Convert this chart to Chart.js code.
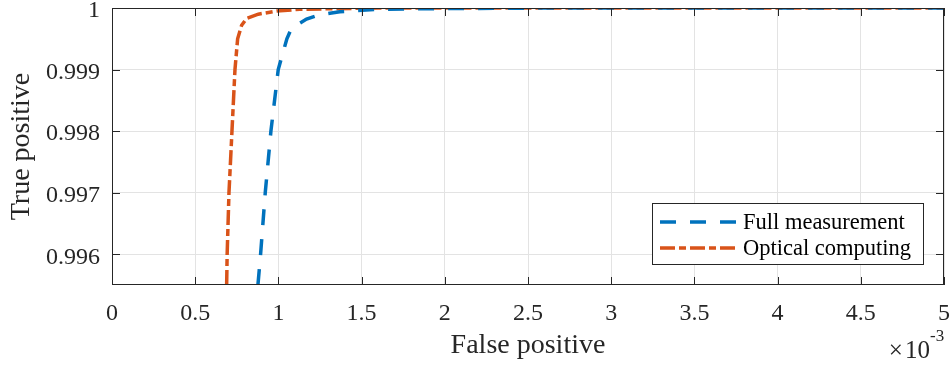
<!DOCTYPE html>
<html>
<head>
<meta charset="utf-8">
<script src="https://cdn.jsdelivr.net/npm/chart.js@4/dist/chart.umd.min.js"></script>
<style>
  html, body { margin: 0; padding: 0; background: #fff; }
</style>
</head>
<body>
<canvas id="roc" width="952" height="366" style="width:952px;height:366px;display:block"></canvas>
<script>
// ROC zoom (x in units of 1e-3)

const xTicks = [0, 0.5, 1, 1.5, 2, 2.5, 3, 3.5, 4, 4.5, 5];
const yTicks = [0.996, 0.997, 0.998, 0.999, 1];

const fullX = [0.877, 0.893, 0.921, 0.955, 0.999, 1.051, 1.079, 1.169, 1.249, 1.369, 1.43, 1.59, 2.0, 2.6, 5];
const fullY = [0.9955, 0.996, 0.997, 0.998, 0.999, 0.9995, 0.99967, 0.99982, 0.99989, 0.99994, 0.99995, 0.99998, 0.99999, 1, 1];

const optX = [0.689, 0.692, 0.703, 0.721, 0.739, 0.755, 0.779, 0.809, 0.879, 0.989, 1.129, 1.6, 5];
const optY = [0.9955, 0.996, 0.997, 0.998, 0.999, 0.9995, 0.99972, 0.99983, 0.9999, 0.99995, 0.99998, 1, 1];

const seriesNames = ['Full measurement', 'Optical computing'];

const AXIS = '#262626';
const GRID = '#e3e3e3';
const SERIF = '"Liberation Serif", "Times New Roman", serif';

function toPoints(xs, ys) {
  return xs.map((x, i) => ({ x: x, y: ys[i] }));
}

// box, inward tick marks, legend and the exponent label
const framePlugin = {
  id: 'frame',
  afterDraw(chart) {
    const ctx = chart.ctx;
    const a = chart.chartArea;
    const sx = chart.scales.x, sy = chart.scales.y;
    const tl = 8;
    ctx.save();
    ctx.strokeStyle = AXIS;
    ctx.lineWidth = 1;
    ctx.strokeRect(a.left + 0.5, a.top + 0.5, a.right - a.left - 1, a.bottom - a.top - 1);
    ctx.beginPath();
    xTicks.forEach(v => {
      const px = Math.round(sx.getPixelForValue(v)) + 0.5;
      ctx.moveTo(px, a.bottom); ctx.lineTo(px, a.bottom - tl);
      ctx.moveTo(px, a.top); ctx.lineTo(px, a.top + tl);
    });
    yTicks.forEach(v => {
      const py = Math.round(sy.getPixelForValue(v)) + 0.5;
      ctx.moveTo(a.left, py); ctx.lineTo(a.left + tl, py);
      ctx.moveTo(a.right, py); ctx.lineTo(a.right - tl, py);
    });
    ctx.stroke();

    // legend
    const lx = 652.5, ly = 203.5, lw = 271, lh = 61;
    ctx.fillStyle = '#fff';
    ctx.fillRect(lx, ly, lw, lh);
    ctx.strokeRect(lx, ly, lw, lh);
    const rows = [222, 248];
    chart.data.datasets.forEach((ds, i) => {
      ctx.save();
      ctx.strokeStyle = ds.borderColor;
      ctx.lineWidth = ds.borderWidth;
      ctx.setLineDash(ds.borderDash);
      ctx.beginPath();
      ctx.moveTo(660, rows[i]);
      ctx.lineTo(737, rows[i]);
      ctx.stroke();
      ctx.restore();
      ctx.fillStyle = '#000';
      ctx.font = '22.5px ' + SERIF;
      ctx.textBaseline = 'middle';
      ctx.textAlign = 'left';
      ctx.fillText(seriesNames[i], 743, rows[i] + 1);
    });

    // x10^-3
    ctx.fillStyle = AXIS;
    ctx.textAlign = 'right';
    ctx.textBaseline = 'alphabetic';
    ctx.font = '25px ' + SERIF;
    ctx.fillText('\u00d7\u200a10', 930, 358);
    ctx.textAlign = 'left';
    ctx.font = '17px ' + SERIF;
    ctx.fillText('-3', 930, 341);
    ctx.restore();
  }
};

new Chart(document.getElementById('roc'), {
  type: 'scatter',
  data: {
    datasets: [
      {
        label: seriesNames[0],
        data: toPoints(fullX, fullY),
        showLine: true,
        borderColor: '#0072BD',
        borderWidth: 3.5,
        borderDash: [16, 14],
        pointRadius: 0,
        tension: 0
      },
      {
        label: seriesNames[1],
        data: toPoints(optX, optY),
        showLine: true,
        borderColor: '#D95319',
        borderWidth: 3.5,
        borderDash: [15, 4, 7, 4],
        pointRadius: 0,
        tension: 0
      }
    ]
  },
  options: {
    responsive: false,
    animation: false,
    devicePixelRatio: 1,
    layout: { padding: { top: 8, right: 8, left: 0, bottom: 0 } },
    plugins: { legend: { display: false }, tooltip: { enabled: false } },
    scales: {
      x: {
        type: 'linear',
        min: 0,
        max: 5,
        afterBuildTicks: s => { s.ticks = xTicks.map(v => ({ value: v })); },
        afterFit: s => { s.height = 81; s.paddingLeft = 0; s.paddingRight = 0; },
        grid: { color: GRID, drawTicks: false },
        border: { display: false },
        ticks: {
          padding: 14,
          color: AXIS,
          font: { family: SERIF, size: 24 },
          callback: v => String(v)
        },
        title: {
          display: true,
          text: 'False positive',
          color: AXIS,
          font: { family: SERIF, size: 28 },
          padding: { top: 0, bottom: 4 }
        }
      },
      y: {
        type: 'linear',
        min: 0.9955,
        max: 1,
        afterBuildTicks: s => { s.ticks = yTicks.map(v => ({ value: v })); },
        afterFit: s => { s.width = 112; s.paddingTop = 0; s.paddingBottom = 0; },
        grid: { color: GRID, drawTicks: false },
        border: { display: false },
        ticks: {
          padding: 12,
          labelOffset: 3,
          color: AXIS,
          font: { family: SERIF, size: 24 },
          callback: v => (v === 1 ? '1' : v.toFixed(3))
        },
        title: {
          display: true,
          text: 'True positive',
          color: AXIS,
          font: { family: SERIF, size: 28 },
          padding: { top: 5, bottom: 0 }
        }
      }
    }
  },
  plugins: [framePlugin]
});
</script>
</body>
</html>
